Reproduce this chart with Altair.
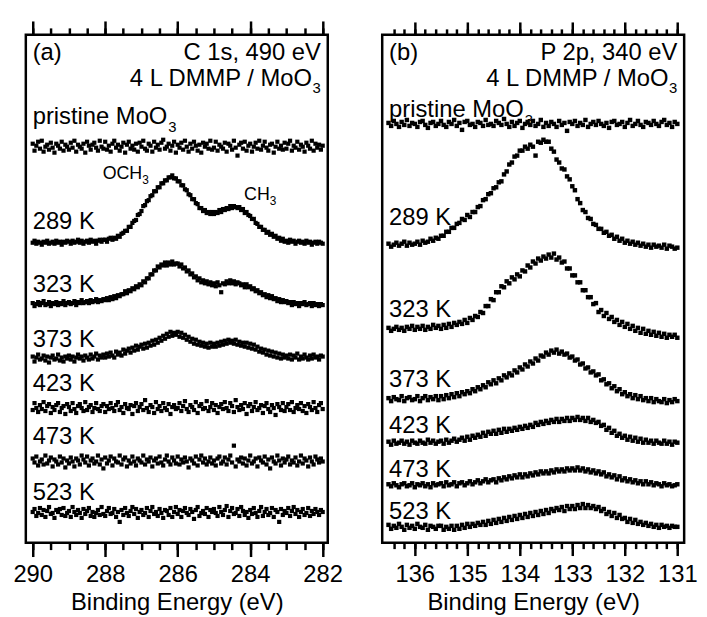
import numpy as np
import pandas as pd
import altair as alt

FONT = "Liberation Sans"

# ---------------- panel (a): C 1s, 490 eV ----------------
A_E = np.linspace(290.0, 282.0, 161)          # binding energy grid (eV)
A_OFFSETS = [400, 303, 241, 186, 136, 82, 30]  # vertical stacking offsets (arb. units)

A_PRISTINE = [3, -4, 1, 5, -2, 6, -5, 0, 2, -3, 4, -1, -6, 3, 1, -2, 5, -4, 2, 0,
              -3, 4, -1, 6, -5, 2, 0, -2, 3, -6, 5, 1, -3, 2, 4, -1, -4, 6, 0, -2,
              5, -3, 1, -5, 3, 6, -1, 2, -4, 0, 4, -6, 2, 5, -2, 1, -3, 3, -5, 4,
              0, 6, -2, -4, 3, 1, -5, 5, -1, 2, -3, 4, 7, -2, 0, 3, -4, 1, 5, -6,
              2, -1, 4, -3, 6, 0, -5, 3, -2, 5, 1, -4, 2, -6, 4, 0, 3, -2, 6, -3,
              -1, 5, -4, 2, 0, -2, 4, -5, 3, 1, -3, 6, -1, -9, 2, 4, -2, 5, -4, 1,
              3, -5, 0, 4, -2, 6, -3, 1, 5, -1, -4, 2, 3, -6, 0, 5, -2, 1, -3, 4,
              -2, 3, 6, -4, 1, -1, 5, -3, 2, 0, -5, 4, 1, -2, 6, -4, 3, -1, 2, -3,
              1]
A_289 = [0, 2, -1, 1, 0, -2, 1, 0, 2, -1, 0, 1, -1, 2, 0, 1, -2, 1, 0, 2,
         1, -1, 2, 0, 1, 3, 0, 2, -1, 1, 2, 0, 3, 1, 2, -1, 2, 3, 1, 3,
         3, 1, 4, 5, 3, 5, 4, 7, 6, 9, 10, 12, 12, 16, 16, 20, 22, 23, 28, 29,
         32, 37, 38, 42, 43, 47, 48, 52, 52, 56, 56, 60, 60, 63, 63, 66, 66, 68, 65, 65,
         62, 62, 58, 58, 54, 53, 49, 48, 44, 44, 40, 39, 35, 35, 32, 33, 30, 31, 29, 31,
         29, 31, 30, 33, 31, 34, 33, 35, 34, 37, 35, 37, 36, 35, 36, 33, 34, 30, 31, 28,
         27, 24, 24, 20, 19, 16, 16, 13, 13, 10, 11, 8, 9, 6, 7, 4, 5, 2, 4, 1,
         2, 0, 3, 1, 2, -1, 1, 2, 0, 1, -1, 2, 0, 1, -2, 0, 1, -1, 1, 0,
         -1]
A_323 = [1, -2, 0, 2, -1, 1, 3, -1, 0, 2, -2, 1, 0, 2, -1, 1, 0, 3, -1, 1,
         2, 0, 1, 3, -1, 2, 1, 4, 1, 2, 3, 1, 4, 2, 3, 5, 2, 4, 3, 5,
         4, 6, 4, 7, 5, 8, 6, 9, 8, 10, 10, 13, 11, 14, 13, 16, 15, 18, 17, 20,
         19, 23, 22, 26, 26, 30, 30, 34, 34, 38, 37, 40, 39, 42, 39, 42, 40, 43, 40, 41,
         41, 38, 40, 36, 37, 33, 34, 30, 31, 27, 28, 24, 26, 22, 24, 21, 23, 20, 22, 19,
         21, 18, 22, 19, 12, 21, 20, 23, 21, 24, 21, 23, 20, 22, 21, 19, 20, 17, 20, 17,
         18, 15, 16, 13, 14, 11, 12, 9, 10, 7, 9, 6, 8, 5, 6, 3, 5, 2, 4, 2,
         3, 1, 2, -1, 2, 0, 1, -2, 1, 0, 2, -1, 0, 1, -2, 1, -1, 0, -2, 0,
         -1]
A_373 = [2, -3, 1, 4, -1, 0, 3, -2, 2, -4, 1, 3, -1, 0, 4, -2, 1, -3, 2, 0,
         3, -1, 2, -3, 1, 4, 0, 2, -2, 3, 1, -1, 4, 0, 2, 5, -1, 3, 1, 4,
         1, 5, 2, 6, 3, 1, 7, 4, 6, 3, 9, 5, 8, 10, 6, 11, 8, 13, 9, 12,
         14, 10, 15, 11, 16, 13, 18, 14, 19, 16, 21, 18, 23, 20, 25, 22, 27, 23, 26, 24,
         27, 22, 26, 21, 24, 19, 22, 17, 20, 15, 19, 14, 17, 13, 16, 12, 15, 11, 16, 12,
         15, 12, 16, 13, 17, 14, 18, 15, 19, 16, 18, 15, 19, 14, 17, 13, 16, 12, 16, 11,
         15, 10, 14, 9, 12, 7, 10, 6, 9, 4, 8, 3, 7, 2, 6, 1, 5, 0, 4, 1,
         3, 0, 4, -1, 3, 1, 5, -1, 2, 0, 4, 1, -1, 3, 0, 4, 1, 2, -1, 3,
         2]
A_423 = [-2, 5, 0, -4, 3, -1, 6, -3, 2, 4, -5, 1, -2, 3, 5, -4, 0, 2, -6, 4,
         1, -3, 5, -1, -5, 2, 4, 0, -3, 6, -2, 1, 3, -4, 0, 5, -1, -3, 2, 4,
         -4, 2, -1, 5, 0, -3, 3, 6, -2, 1, -5, 4, 0, -1, 3, -6, 2, 5, -3, 1,
         4, -2, 8, 0, -4, 3, 1, -5, 6, -1, 2, -3, 5, 0, -2, 4, -6, 1, 3, -1,
         0, 5, -3, 2, 7, -1, -4, 3, 1, -2, 6, -5, 2, 4, -1, 0, 7, -3, 1, 5,
         -2, 3, -5, 1, 4, -1, 6, 0, -3, 5, 2, -4, 8, 1, -2, 3, -1, 5, -6, 2,
         4, -3, 1, 6, -2, 0, 3, -5, 2, 5, -1, -4, 3, 0, -7, 4, 1, -2, 5, -3,
         1, 4, -2, 6, -4, 0, 3, -1, 5, -3, 2, -5, 4, 1, -2, 6, 0, -4, 3, 5,
         -1]
A_473 = [3, -1, 5, -4, 0, 2, -3, 6, -2, 1, 4, -5, 2, 0, -3, 5, -1, 3, -6, 1,
         -2, 4, 0, -5, 3, 1, -3, 6, 2, -1, 5, -4, 1, 3, -2, 0, 6, -3, 2, -7,
         4, -2, 1, 5, -4, 3, 0, -1, 6, -3, 2, 4, -5, 1, -2, 5, 0, -4, 3, 1,
         -1, 6, -3, 2, 0, 4, -5, 1, 3, -2, 5, -1, -4, 2, 6, 0, -3, 4, 1, -2,
         5, -3, 2, -1, 4, 0, -6, 3, 1, -2, 5, -4, 2, 6, -1, 3, -3, 0, 4, -2,
         1, -4, 3, 5, -2, 0, 4, -3, 2, 6, -1, 16, -5, 2, 0, 4, -2, 3, -4, 1,
         6, -2, 0, 3, -5, 4, 1, -1, 5, -3, 2, -7, 4, 0, -2, 6, 1, -4, 3, -1,
         2, 5, -3, 1, -1, 4, -4, 0, 6, -2, 3, 1, -5, 4, 0, -3, 5, 2, -1, 3,
         0]
A_523 = [1, 4, -3, 0, 5, -2, 3, -4, 2, 6, -1, 0, -5, 3, 1, 4, -2, 5, -3, 0,
         2, -4, 6, 1, -2, 3, 0, -5, 4, -1, 2, 5, -3, 1, -4, 0, 3, -2, 6, -1,
         -3, 2, 5, -1, 0, 4, -4, 1, -9, 3, -2, 5, 0, -3, 2, 6, -1, 4, -5, 1,
         3, -2, 0, 5, -4, 2, 6, -1, 1, -3, 4, 0, -5, 3, 2, -2, 5, -4, 1, 6,
         -1, 3, -4, 2, 5, 0, -2, 4, 1, -6, 3, 6, -3, 0, 2, -1, 5, -4, 3, 1,
         4, 0, -3, 6, 1, -2, 3, 7, -4, 2, 5, -1, 0, 4, -3, 6, 2, -2, 1, -5,
         3, -1, 5, 0, -4, 2, 6, -3, 1, 4, -2, 0, 5, -4, 3, 1, -9, 4, -2, 2,
         0, 5, -3, 2, 6, -1, 3, -4, 1, 4, -2, 0, 5, -3, 2, -1, 4, 1, -2, 3,
         1]
A_SERIES = [A_PRISTINE, A_289, A_323, A_373, A_423, A_473, A_523]

# ---------------- panel (b): P 2p, 340 eV ----------------
B_E = np.linspace(136.5, 131.0, 111)
B_OFFSETS = [423, 301, 216, 145, 101, 58, 16]

B_PRISTINE = [1, -2, 3, 0, -3, 2, -1, 4, -2, 1, 0, -3, 2, 3, -1, -4, 1, 2, -2, 0,
              3, -1, -3, 2, 0, 4, -2, 1, -6, 2, 3, -1, 0, -3, 2, 1, -2, 4, -1, 0,
              -2, 3, 1, -1, 5, 0, -3, 2, -2, 1, 3, -4, 0, 2, -1, 3, -2, 0, 4, -3,
              1, -2, 2, 0, -3, 3, -1, 1, -7, 2, 0, 3, -2, 1, -1, 4, -3, 0, 2, -1,
              3, 0, -2, 1, -4, 2, 3, -1, 0, 2, -3, 1, 4, -2, 0, 3, -1, -3, 2, 1,
              -1, 3, 0, -2, 2, 4, -1, 1, -3, 2,
              0]
B_289 = [1, -2, 0, 2, -1, 1, 3, -1, 2, 0, 1, 3, 0, 4, 2, 3, 6, 4, 7, 6,
         9, 9, 13, 13, 17, 17, 21, 22, 26, 25, 30, 28, 33, 33, 38, 39, 45, 46, 51, 52,
         57, 58, 63, 64, 71, 74, 81, 83, 89, 90, 95, 95, 99, 97, 101, 99, 90, 104, 103, 106,
         104, 104, 97, 94, 86, 83, 77, 76, 69, 66, 59, 55, 46, 42, 35, 33, 27, 26, 21, 20,
         16, 16, 12, 13, 9, 10, 6, 8, 4, 6, 2, 4, 1, 3, 0, 2, -1, 1, -2, 0,
         -3, 0, -2, -1, -3, 0, -4, -1, -2, -4,
         -3]
B_323 = [1, -2, 0, 2, -1, 1, -2, 2, 0, 3, -1, 2, 0, 3, -1, 2, 0, 4, 1, 3,
         0, 4, 1, 5, 2, 6, 4, 7, 5, 9, 6, 11, 9, 13, 12, 17, 16, 23, 23, 30,
         29, 37, 37, 43, 42, 48, 46, 52, 50, 55, 53, 59, 58, 64, 62, 68, 66, 71, 69, 73,
         71, 75, 72, 76, 70, 72, 67, 68, 61, 61, 54, 54, 47, 47, 39, 39, 32, 32, 25, 26,
         17, 19, 13, 16, 10, 12, 7, 9, 4, 7, 2, 5, 0, 3, -2, 1, -4, 0, -5, -2,
         -6, -3, -7, -4, -8, -5, -9, -6, -8, -6,
         -9]
B_373 = [1, -2, 2, 0, -1, 3, -2, 1, 2, -1, 0, 3, -2, 1, 3, -1, 2, 0, 3, -1,
         3, 0, 4, 1, 5, 2, 6, 3, 7, 5, 8, 6, 10, 8, 12, 10, 14, 12, 17, 15,
         19, 16, 21, 19, 24, 22, 26, 24, 29, 27, 32, 30, 35, 33, 38, 36, 41, 39, 44, 43,
         47, 45, 49, 47, 50, 46, 48, 45, 46, 42, 43, 39, 40, 35, 36, 31, 32, 27, 28, 24,
         25, 19, 20, 15, 16, 11, 13, 8, 10, 5, 7, 3, 5, 1, 4, 0, 3, -1, 1, -2,
         1, -3, 0, -2, -3, 0, -4, -1, -3, 0,
         -2]
B_423 = [1, -2, 2, -1, 0, 2, -1, 1, -2, 2, 0, -1, 2, 0, -1, 3, 0, 2, -1, 1,
         2, -1, 3, 0, 2, 4, 1, 3, 5, 2, 6, 3, 7, 5, 8, 6, 10, 7, 11, 9,
         12, 9, 13, 10, 14, 11, 14, 12, 15, 13, 16, 14, 17, 15, 18, 16, 20, 18, 21, 19,
         22, 20, 23, 21, 24, 21, 24, 22, 25, 22, 25, 23, 26, 23, 25, 22, 25, 21, 23, 20,
         21, 17, 18, 13, 15, 10, 12, 7, 9, 5, 7, 3, 6, 2, 5, 1, 4, 0, 3, 0,
         2, -1, 2, 0, -1, 2, -1, 1, -2, 1,
         0]
B_473 = [1, -1, 2, 0, -2, 1, 2, -1, 0, 2, -2, 1, 0, 2, -1, 1, -2, 2, 0, 1,
         2, -1, 3, 0, 1, 3, -1, 2, 3, 0, 2, 4, 1, 3, 5, 2, 4, 6, 3, 5,
         6, 3, 7, 5, 8, 6, 9, 7, 10, 8, 11, 8, 11, 9, 12, 10, 13, 11, 14, 12,
         14, 12, 15, 13, 16, 14, 16, 14, 17, 15, 17, 15, 18, 15, 17, 14, 16, 13, 15, 12,
         14, 11, 13, 9, 11, 8, 10, 6, 9, 5, 7, 4, 6, 3, 5, 2, 4, 1, 4, 1,
         3, 0, 2, 1, -1, 2, 0, 1, -1, 0,
         1]
B_523 = [2, -2, 1, -1, 3, 0, -3, 2, -1, 1, -2, 3, 0, -1, 2, -3, 1, 0, -2, 1,
         1, -3, 0, -2, 1, -3, 1, -2, 2, -1, 3, 0, 3, 1, 4, 2, 5, 2, 6, 3,
         7, 4, 8, 5, 9, 6, 10, 7, 11, 8, 12, 9, 13, 10, 14, 11, 15, 12, 16, 13,
         17, 14, 18, 16, 19, 17, 20, 16, 21, 18, 21, 18, 22, 19, 23, 19, 22, 19, 21, 18,
         20, 16, 18, 13, 15, 11, 14, 9, 12, 8, 9, 5, 8, 4, 7, 3, 5, 2, 4, 1,
         3, 0, 2, -1, 2, 0, 1, -1, 1, 0,
         0]
B_SERIES = [B_PRISTINE, B_289, B_323, B_373, B_423, B_473, B_523]

for s in A_SERIES:
    assert len(s) == len(A_E), len(s)
for s in B_SERIES:
    assert len(s) == len(B_E), len(s)

# tick values
A_MAJOR = [290, 288, 286, 284, 282]
A_MINOR = [290, 289.5, 289, 288.5, 288, 287.5, 287, 286.5, 286, 285.5, 285,
           284.5, 284, 283.5, 283, 282.5, 282]
B_MAJOR = [136, 135, 134, 133, 132, 131]
B_MINOR = [136.4, 136.2, 136.0, 135.8, 135.6, 135.4, 135.2, 135.0, 134.8, 134.6,
           134.4, 134.2, 134.0, 133.8, 133.6, 133.4, 133.2, 133.0, 132.8, 132.6,
           132.4, 132.2, 132.0, 131.8, 131.6, 131.4, 131.2, 131.0]

TEMPS = ["289 K", "323 K", "373 K", "423 K", "473 K", "523 K"]
A_TEMP_Y = [317, 253, 198, 153, 100, 43]
B_TEMP_Y = [321, 228, 157, 111, 66, 24]

W, H = 305, 513
FS = 24
YS = alt.Scale(domain=[0, 513], nice=False, zero=False)


def build_df(E, series, offsets):
    frames = []
    for sig, off in zip(series, offsets):
        frames.append(pd.DataFrame({"E": E, "I": off + np.array(sig, dtype=float)}))
    return pd.concat(frames, ignore_index=True)


def as_list(v):
    return v if isinstance(v, list) else [v]


def txt(xs, x, y, t, size=FS, align="left", dx=0, dy=0, axis=None):
    df = pd.DataFrame({"x": as_list(x), "y": as_list(y), "t": as_list(t)})
    return alt.Chart(df).mark_text(
        align=align, baseline="alphabetic", font=FONT, fontSize=size,
        dx=dx, dy=dy, color="black"
    ).encode(
        x=alt.X("x:Q", scale=xs, axis=axis, title=None),
        y=alt.Y("y:Q", scale=YS, axis=None),
        text="t:N",
    )


def panel(E, series, offsets, dom, major, minor, tmaj, tmin, msize,
          tag, head, xl, xr, temp_y, prist_y, extra):
    xs = alt.Scale(domain=dom, reverse=True, nice=False, zero=False)
    bottom_major = alt.Axis(orient="bottom", values=major, format="d",
                            tickSize=tmaj, labelPadding=20 - tmaj,
                            title="Binding Energy (eV)")
    bottom_minor = alt.Axis(orient="bottom", values=minor, labels=False, tickSize=tmin)
    top_major = alt.Axis(orient="top", values=major, labels=False, tickSize=tmaj)
    top_minor = alt.Axis(orient="top", values=minor, labels=False, tickSize=tmin)
    df = build_df(E, series, offsets)
    pts = alt.Chart(df).mark_square(size=msize, color="black", opacity=1).encode(
        x=alt.X("E:Q", scale=xs, axis=bottom_major),
        y=alt.Y("I:Q", scale=YS, axis=None),
    )
    layers = [
        pts,
        txt(xs, [xl] * len(TEMPS), temp_y, TEMPS, axis=top_major),
        txt(xs, xl, 488, tag, axis=bottom_minor),
        txt(xs, xr, 488, head, align="right", axis=top_minor),
        txt(xs, xr, 461, "4 L DMMP / MoO", align="right", dx=-9),
        txt(xs, xr, 461, "3", size=15, align="right", dy=7),
        txt(xs, xl, prist_y, "pristine MoO"),
        txt(xs, xl, prist_y, "3", size=15, dx=137, dy=8),
    ] + extra(xs)
    return alt.layer(*layers).resolve_axis(x="independent").properties(width=W, height=H)


def extra_a(xs):
    return [
        txt(xs, 288.07, 367, "OCH", size=18),
        txt(xs, 288.07, 367, "3", size=12, dx=40, dy=5),
        txt(xs, 284.17, 346, "CH", size=18),
        txt(xs, 284.17, 346, "3", size=12, dx=26, dy=5),
    ]


pa = panel(A_E, A_SERIES, A_OFFSETS, [281.86, 290.19], A_MAJOR, A_MINOR, 14, 7, 18,
           "(a)", "C 1s, 490 eV", 290.0, 282.05, A_TEMP_Y, 423, extra_a)
pb = panel(B_E, B_SERIES, B_OFFSETS, [130.87, 136.62], B_MAJOR, B_MINOR, 13, 6, 20,
           "(b)", "P 2p, 340 eV", 136.49, 131.0, B_TEMP_Y, 430, lambda xs: [])

chart = alt.hconcat(pa, pb, spacing=36).properties(
    padding={"left": 3, "top": 7, "right": 0, "bottom": 0}
).configure_view(
    stroke="black", strokeWidth=2.5
).configure_axis(
    labelFont=FONT, titleFont=FONT, labelFontSize=FS, titleFontSize=FS,
    titleFontWeight="normal", labelColor="black", titleColor="black",
    tickColor="black", tickWidth=2.5, domain=False, grid=False,
    titlePadding=4, labelFlush=False, labelOverlap=False,
)

chart.save("out.html", embed_options={"renderer": "svg", "actions": False})
